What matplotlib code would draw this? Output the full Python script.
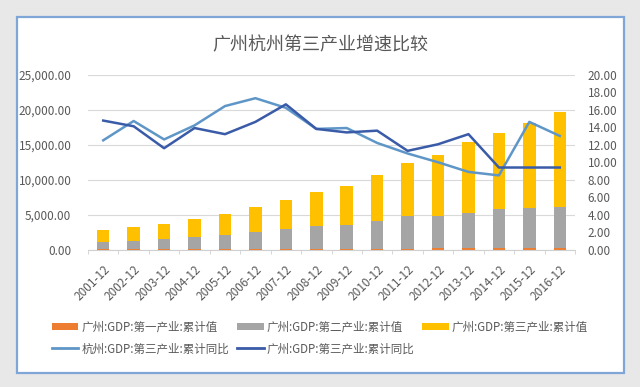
import matplotlib
matplotlib.use("Agg")
import matplotlib.pyplot as plt
from matplotlib.patches import Rectangle, Patch
from matplotlib.lines import Line2D
import numpy as np

plt.rcParams['font.family'] = ['Noto Sans CJK SC', 'DejaVu Sans']

years = ["2001-12", "2002-12", "2003-12", "2004-12", "2005-12", "2006-12", "2007-12", "2008-12",
         "2009-12", "2010-12", "2011-12", "2012-12", "2013-12", "2014-12", "2015-12", "2016-12"]
gz_primary = [95, 100, 105, 115, 125, 135, 145, 165, 170, 190, 205, 215, 230, 230, 230, 240]
gz_secondary = [1050, 1180, 1510, 1740, 2020, 2490, 2810, 3260, 3400, 3950, 4650, 4640, 5090, 5570, 5810, 5850]
gz_tertiary = [1655, 1950, 2145, 2615, 3045, 3505, 4175, 4805, 5560, 6510, 7515, 8695, 10080, 10900, 11980, 13500]
hz_tertiary_yoy = [12.5, 14.7, 12.6, 14.2, 16.4, 17.3, 16.2, 13.8, 13.9, 12.2, 11.0, 10.0, 8.9, 8.5, 14.6, 13.0]
gz_tertiary_yoy = [14.75, 14.1, 11.6, 13.9, 13.2, 14.6, 16.6, 13.8, 13.4, 13.6, 11.3, 12.05, 13.2, 9.4, 9.4, 9.4]

labels = ["广州:GDP:第一产业:累计值", "广州:GDP:第二产业:累计值", "广州:GDP:第三产业:累计值",
          "杭州:GDP:第三产业:累计同比", "广州:GDP:第三产业:累计同比"]
title = "广州杭州第三产业增速比较"

c_orange = "#ED7D31"
c_gray = "#A5A5A5"
c_yellow = "#FFC000"
c_light = "#5F96C8"
c_dark = "#3A5BA8"
txt = "#595959"

fig = plt.figure(figsize=(6.4, 3.87), dpi=100, facecolor="#e8e8e8")
bg = fig.add_axes([0, 0, 1, 1], zorder=-5)
bg.set_xlim(0, 640)
bg.set_ylim(387, 0)
bg.axis("off")
bg.add_patch(Rectangle((17, 17), 607, 356, facecolor="white", edgecolor="#7fa6d6", linewidth=1.6))

ax = fig.add_axes([88/640, 1-250/387, (575-88)/640, (250-74.5)/387], zorder=1)
ax.set_facecolor("none")
x = np.arange(len(years))
w = 0.41
p1 = np.array(gz_primary)
p2 = np.array(gz_secondary)
p3 = np.array(gz_tertiary)
ax.bar(x, p1, w, color=c_orange, zorder=2)
ax.bar(x, p2, w, bottom=p1, color=c_gray, zorder=2)
ax.bar(x, p3, w, bottom=p1 + p2, color=c_yellow, zorder=2)
ax.set_xlim(-0.5, len(years) - 0.5)
ax.set_ylim(0, 25000)
ax.set_yticks(np.arange(0, 25001, 5000))
ax.set_yticklabels([f"{v:,.2f}" for v in np.arange(0, 25001, 5000)], fontsize=8.5, color=txt)
ax.grid(axis="y", color="#d9d9d9", linewidth=0.8, zorder=0)
ax.set_axisbelow(True)
for s in ["top", "right", "left"]:
    ax.spines[s].set_visible(False)
ax.spines["bottom"].set_color("#d0d0d0")
ax.tick_params(axis="y", length=0, pad=12)
ax.set_xticks(x)
ax.set_xticklabels(years, rotation=45, ha="right", rotation_mode="anchor", fontsize=8.5, color=txt)
ax.tick_params(axis="x", length=0, pad=9)
ax.set_xticks(np.arange(-0.5, len(years), 1), minor=True)
ax.tick_params(axis="x", which="minor", length=3, color="#d0d0d0")

ax2 = ax.twinx()
ax2.plot(x, hz_tertiary_yoy, color=c_light, linewidth=1.8, zorder=3)
ax2.plot(x, gz_tertiary_yoy, color=c_dark, linewidth=1.8, zorder=4)
ax2.set_ylim(0, 20)
ax2.set_yticks(np.arange(0, 20.1, 2))
ax2.set_yticklabels([f"{v:.2f}" for v in np.arange(0, 20.1, 2)], fontsize=8.5, color=txt)
ax2.tick_params(axis="y", length=0, pad=9)
for s in ["top", "right", "left", "bottom"]:
    ax2.spines[s].set_visible(False)

fig.text(0.5, 1-45/387, title, ha="center", va="center", fontsize=13, color=txt)

h1 = Patch(facecolor=c_orange)
h2 = Patch(facecolor=c_gray)
h3 = Patch(facecolor=c_yellow)
h4 = Line2D([], [], color=c_light, linewidth=2)
h5 = Line2D([], [], color=c_dark, linewidth=2)
handles = [h1, h4, h2, h5, h3]
labs = [labels[0], labels[3], labels[1], labels[4], labels[2]]
fig.legend(handles, labs, ncol=3, loc="center", bbox_to_anchor=(0.5, 1-338/387),
           frameon=False, fontsize=8.3, labelcolor=txt, handlelength=2.3, handleheight=0.6,
           handletextpad=0.25, columnspacing=0.7, labelspacing=0.75)

fig.savefig("out.png", dpi=100, facecolor=fig.get_facecolor())
